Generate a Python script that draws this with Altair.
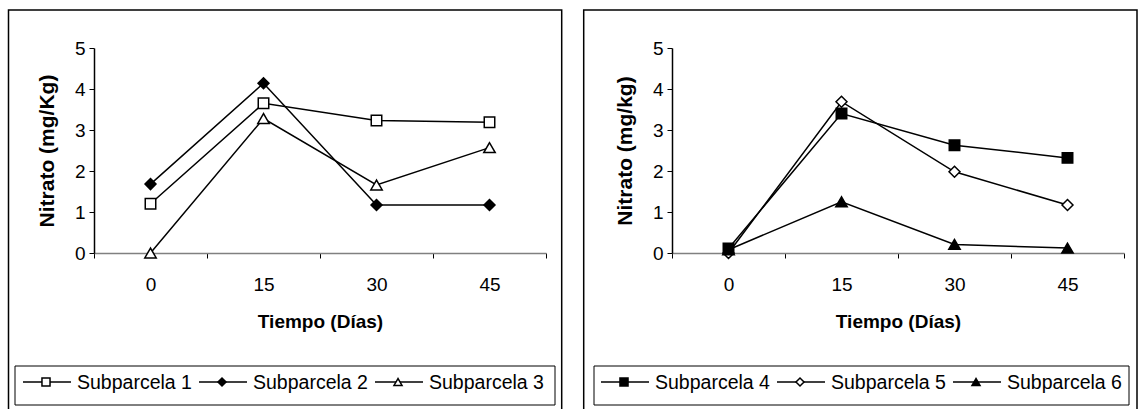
import altair as alt
import pandas as pd

FONT = "Liberation Sans"

dias = ["0", "15", "30", "45"]

series_left = ["Subparcela 1", "Subparcela 2", "Subparcela 3"]
s1 = [1.20, 3.65, 3.23, 3.19]
s2 = [1.68, 4.14, 1.17, 1.17]
s3 = [0.00, 3.28, 1.66, 2.57]
shapes_left = ["square", "diamond", "triangle-up"]
fills_left = ["white", "black", "white"]

series_right = ["Subparcela 4", "Subparcela 5", "Subparcela 6"]
s4 = [0.11, 3.40, 2.63, 2.32]
s5 = [0.00, 3.69, 1.98, 1.17]
s6 = [0.08, 1.25, 0.21, 0.12]
shapes_right = ["square", "diamond", "triangle-up"]
fills_right = ["black", "white", "black"]

marker_sizes = [110, 130, 190]

W, H = 452, 205


def panel(series, values, shapes, fills, ytitle, frame_x, box_x):
    rows = []
    for name, vals in zip(series, values):
        for d, v in zip(dias, vals):
            rows.append({"serie": name, "dia": d, "val": v})
    df = pd.DataFrame(rows)

    yax = alt.Axis(values=[0, 1, 2, 3, 4, 5], grid=False, title=ytitle,
                   domainColor="black", domainWidth=1.5, tickColor="black",
                   tickSize=5, tickWidth=1, labelFont=FONT, labelFontSize=19,
                   labelColor="black", labelPadding=4, titleFont=FONT,
                   titleFontSize=21, titleFontWeight="bold", titleColor="black",
                   titlePadding=17)
    yenc = alt.Y("val:Q", scale=alt.Scale(domain=[0, 5], nice=False), axis=yax)
    xsc = alt.Scale(type="band", paddingInner=0, paddingOuter=0)
    xax = alt.Axis(title="Tiempo (Días)", tickBand="extent", labelAngle=0,
                   domainColor="#808080", domainWidth=1.5, tickColor="black",
                   tickSize=5, tickWidth=1, labelFont=FONT, labelFontSize=19,
                   labelColor="black", labelPadding=17, titleFont=FONT,
                   titleFontSize=19, titleFontWeight="bold", titleColor="black",
                   titlePadding=18)
    shape_enc = alt.Shape("serie:N", scale=alt.Scale(domain=series, range=shapes), legend=None)
    fill_enc = alt.Fill("serie:N", scale=alt.Scale(domain=series, range=fills), legend=None)
    size_enc = alt.Size("serie:N", scale=alt.Scale(domain=series, range=marker_sizes), legend=None)

    base = alt.Chart(df)
    lines = base.mark_line(color="black", strokeWidth=1.5).encode(
        x=alt.X("dia:N", sort=dias, scale=xsc, bandPosition=0.5, axis=xax),
        y=yenc, detail="serie:N")
    points = base.mark_point(filled=True, stroke="black", strokeWidth=1.5,
                             opacity=1).encode(
        x=alt.X("dia:N", sort=dias, scale=xsc, bandPosition=0.5, axis=None),
        y=yenc, shape=shape_enc, fill=fill_enc, size=size_enc)

    frame = alt.Chart(pd.DataFrame({"k": [0]})).mark_rect(
        fillOpacity=0, stroke="black", strokeWidth=1.5).encode(
        x=alt.value(frame_x[0]), x2=alt.value(frame_x[1]),
        y=alt.value(-38), y2=alt.value(400))
    box = alt.Chart(pd.DataFrame({"k": [0]})).mark_rect(
        fillOpacity=0, stroke="black", strokeWidth=1).encode(
        x=alt.value(box_x[0]), x2=alt.value(box_x[1]),
        y=alt.value(318), y2=alt.value(357))

    starts = [-71, 105, 281]
    leg = pd.DataFrame({
        "serie": series,
        "x1": starts,
        "x2": [s + 48 for s in starts],
        "xm": [s + 23 for s in starts],
        "xt": [s + 54 for s in starts],
    })
    lsc = alt.Scale(domain=[0, W], range=[0, W], zero=False, nice=False)
    lb = alt.Chart(leg)
    lrule = lb.mark_rule(color="black", strokeWidth=1.5).encode(
        x=alt.X("x1:Q", scale=lsc, axis=None), x2="x2:Q", y=alt.value(334))
    lpts = lb.mark_point(filled=True, stroke="black", strokeWidth=1.5,
                         size=65, opacity=1).encode(
        x=alt.X("xm:Q", scale=lsc, axis=None), y=alt.value(334),
        shape=shape_enc, fill=fill_enc)
    ltxt = lb.mark_text(align="left", baseline="middle", font=FONT,
                        fontSize=19.5, color="black").encode(
        x=alt.X("xt:Q", scale=lsc, axis=None), y=alt.value(335), text="serie:N")

    return alt.layer(frame, box, lines, points, lrule, lpts, ltxt).resolve_scale(
        x="independent").properties(width=W, height=H)


left = panel(series_left, [s1, s2, s3], shapes_left, fills_left,
             "Nitrato (mg/Kg)", (-85.5, 467.7), (-79, 461))
right = panel(series_right, [s4, s5, s6], shapes_right, fills_right,
              "Nitrato (mg/kg)", (-88.3, 465), (-78, 457))

chart = alt.hconcat(left, right, spacing=126, bounds="flush").resolve_scale(
    shape="independent", fill="independent", size="independent"
).properties(
    padding={"left": 7, "top": 9, "right": 0, "bottom": 0},
    background="white",
).configure_view(stroke=None)

chart.save("out.html", embed_options={"renderer": "svg", "actions": False})
